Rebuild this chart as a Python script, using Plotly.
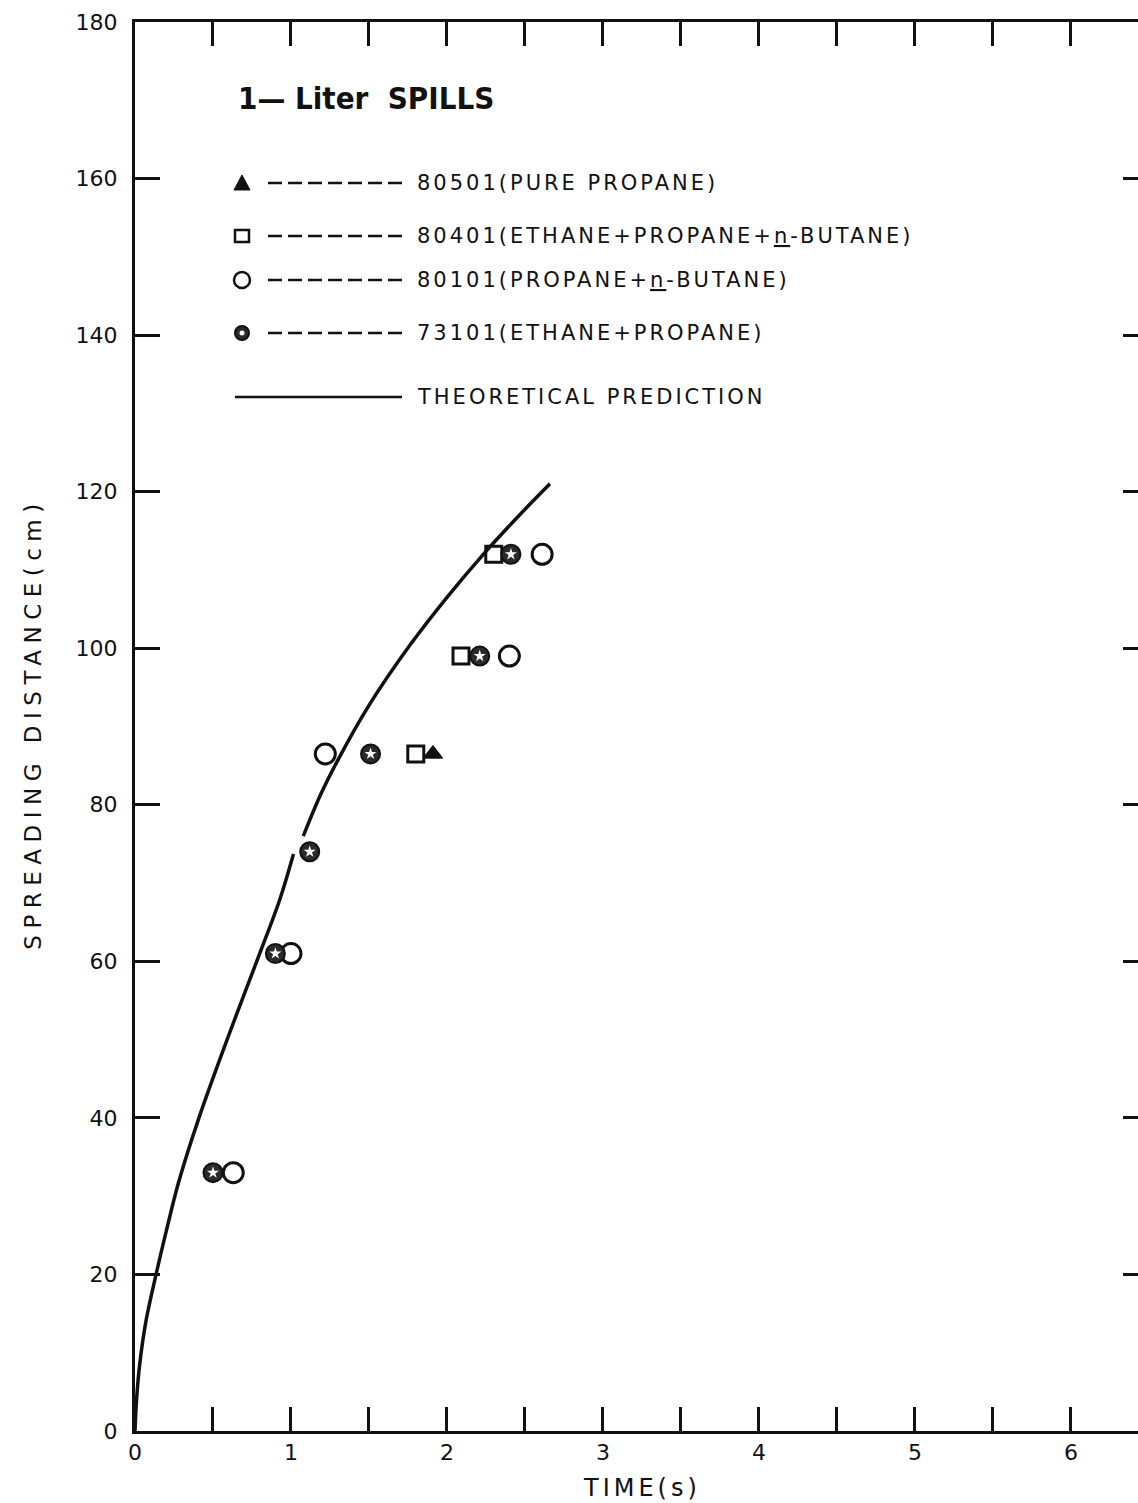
import plotly.graph_objects as go

# ---- data -------------------------------------------------------------
# Theoretical prediction curve, drawn as two pen strokes
theory_t_lower = [0, 0.01, 0.03, 0.07, 0.135, 0.2, 0.28, 0.41, 0.60, 0.79, 0.93, 1.016]
theory_d_lower = [0, 4, 8.5, 14, 20, 25.5, 31.8, 40, 50.5, 60.5, 68, 73.7]
theory_t_upper = [1.079, 1.19, 1.303, 1.5, 1.763, 2.0, 2.233, 2.45, 2.66]
theory_d_upper = [76.0, 81.3, 85.8, 92.7, 100.4, 106.5, 112.0, 116.7, 121.0]

# Test 80501 (pure propane)
t_80501 = [1.91]
d_80501 = [86.5]
# Test 80401 (ethane + propane + n-butane)
t_80401 = [1.80, 2.09, 2.30]
d_80401 = [86.5, 99, 112]
# Test 80101 (propane + n-butane)
t_80101 = [0.63, 1.00, 1.22, 2.40, 2.61]
d_80101 = [33, 61, 86.5, 99, 112]
# Test 73101 (ethane + propane)
t_73101 = [0.50, 0.90, 1.12, 1.51, 2.21, 2.41]
d_73101 = [33, 61, 74, 86.5, 99, 112]

x_ticks = [0, 0.5, 1, 1.5, 2, 2.5, 3, 3.5, 4, 4.5, 5, 5.5, 6]
x_ticklabels = ["0", "", "1", "", "2", "", "3", "", "4", "", "5", "", "6"]
y_ticks = [0, 20, 40, 60, 80, 100, 120, 140, 160, 180]

legend_labels = [
    "80501(PURE PROPANE)",
    "80401(ETHANE+PROPANE+<u>n</u>-BUTANE)",
    "80101(PROPANE+<u>n</u>-BUTANE)",
    "73101(ETHANE+PROPANE)",
    "THEORETICAL PREDICTION",
]

# ---- figure geometry ---------------------------------------------------
W, H = 1138, 1503
ML, MR, MT, MB = 135, 0, 22, 72
PW, PH = W - ML - MR, H - MT - MB
X_RANGE = [0, 6.43]
Y_RANGE = [0, 180]

FONT = "DejaVu Sans"
INK = "#111111"


def px(xp):
    return (xp - ML) / PW


def py(yp):
    return (H - MB - yp) / PH


fig = go.Figure()

for tt, dd in ((theory_t_lower, theory_d_lower), (theory_t_upper, theory_d_upper)):
    fig.add_trace(go.Scatter(
        x=tt, y=dd, mode="lines",
        line=dict(color=INK, width=3.5, shape="spline", smoothing=1.0),
        hoverinfo="skip", showlegend=False,
    ))

fig.add_trace(go.Scatter(
    x=t_80401, y=d_80401, mode="markers",
    marker=dict(symbol="square-open", size=16, color=INK, line=dict(width=3, color=INK)),
    showlegend=False,
))
fig.add_trace(go.Scatter(
    x=t_80501, y=d_80501, mode="markers",
    marker=dict(symbol="triangle-up", size=17, color=INK, line=dict(width=1, color=INK)),
    showlegend=False,
))
fig.add_trace(go.Scatter(
    x=t_80101, y=d_80101, mode="markers",
    marker=dict(symbol="circle-open", size=20, color=INK, line=dict(width=3, color=INK)),
    showlegend=False,
))
fig.add_trace(go.Scatter(
    x=t_73101, y=d_73101, mode="markers",
    marker=dict(symbol="circle", size=19, color="#2a2a2a", line=dict(width=2, color=INK)),
    showlegend=False,
))
fig.add_trace(go.Scatter(
    x=t_73101, y=d_73101, mode="markers",
    marker=dict(symbol="star", size=9, color="white", line=dict(width=0)),
    hoverinfo="skip", showlegend=False,
))
# second y axis only carries the inward ticks on the right-hand edge
fig.add_trace(go.Scatter(x=[None], y=[None], yaxis="y2", showlegend=False))

# ---- legend block -------------------------------------------------------
shapes = []
annotations = []
row_y = [183, 236, 280, 333, 397]
key_x = 242
for i, yy in enumerate(row_y):
    if i < 4:
        shapes.append(dict(type="line", xref="paper", yref="paper",
                           x0=px(268), x1=px(402), y0=py(yy), y1=py(yy),
                           line=dict(color=INK, width=2.5, dash="14px,6px")))
    else:
        shapes.append(dict(type="line", xref="paper", yref="paper",
                           x0=px(235), x1=px(402), y0=py(yy), y1=py(yy),
                           line=dict(color=INK, width=2.5)))
    annotations.append(dict(
        xref="paper", yref="paper", x=px(415), y=py(yy), xanchor="left", yanchor="middle",
        text='<span style="letter-spacing:3px">%s</span>' % legend_labels[i],
        showarrow=False, font=dict(family=FONT, size=21, color=INK),
    ))

# legend keys
shapes.append(dict(type="path", xref="paper", yref="paper",
                   path="M %f,%f L %f,%f L %f,%f Z" % (px(key_x - 8), py(183 + 7), px(key_x + 8), py(183 + 7),
                                                       px(key_x), py(183 - 8)),
                   fillcolor=INK, line=dict(color=INK, width=1)))
shapes.append(dict(type="rect", xref="paper", yref="paper",
                   x0=px(key_x - 7), x1=px(key_x + 7), y0=py(236 + 6), y1=py(236 - 6),
                   line=dict(color=INK, width=2.5)))
shapes.append(dict(type="circle", xref="paper", yref="paper",
                   x0=px(key_x - 8), x1=px(key_x + 8), y0=py(280 + 8), y1=py(280 - 8),
                   line=dict(color=INK, width=2.5)))
shapes.append(dict(type="circle", xref="paper", yref="paper",
                   x0=px(key_x - 7), x1=px(key_x + 7), y0=py(333 + 7), y1=py(333 - 7),
                   fillcolor="#2a2a2a", line=dict(color=INK, width=2)))
shapes.append(dict(type="circle", xref="paper", yref="paper",
                   x0=px(key_x - 2.5), x1=px(key_x + 2.5), y0=py(333 + 2.5), y1=py(333 - 2.5),
                   fillcolor="white", line=dict(width=0)))

annotations.append(dict(
    xref="paper", yref="paper", x=px(236), y=py(98), xanchor="left", yanchor="middle",
    text="<b>1— Liter  SPILLS</b>", showarrow=False,
    font=dict(family="DejaVu Sans Condensed, DejaVu Sans", size=31, color=INK),
))

# axis titles
annotations.append(dict(
    xref="paper", yref="paper", x=0, y=0.502, xshift=-102, xanchor="center", yanchor="middle",
    textangle=-90, showarrow=False,
    text='<span style="letter-spacing:6.5px">SPREADING DISTANCE(cm)</span>',
    font=dict(family=FONT, size=23, color=INK),
))
annotations.append(dict(
    xref="x", yref="paper", x=3.25, y=0, yshift=-57, xanchor="center", yanchor="middle",
    showarrow=False,
    text='<span style="letter-spacing:4px">TIME(s)</span>',
    font=dict(family=FONT, size=24, color=INK),
))

fig.update_layout(
    width=W, height=H,
    margin=dict(l=ML, r=MR, t=MT, b=MB, pad=0),
    paper_bgcolor="white", plot_bgcolor="white",
    showlegend=False,
    shapes=shapes,
    annotations=annotations,
    xaxis=dict(
        range=X_RANGE, tickmode="array", tickvals=x_ticks, ticktext=x_ticklabels,
        ticks="inside", ticklen=24, tickwidth=3, tickcolor=INK,
        showline=True, linewidth=3, linecolor=INK, mirror="ticks",
        showgrid=False, zeroline=False,
        tickfont=dict(family=FONT, size=22, color=INK),
    ),
    yaxis=dict(
        range=Y_RANGE, tickmode="array", tickvals=y_ticks,
        ticks="inside", ticklen=25, tickwidth=3, tickcolor=INK,
        showline=True, linewidth=3, linecolor=INK, mirror=False,
        showgrid=False, zeroline=False, ticklabelstandoff=10,
        tickfont=dict(family=FONT, size=22, color=INK),
    ),
    yaxis2=dict(
        range=Y_RANGE, overlaying="y", side="right", anchor="x",
        tickmode="array", tickvals=y_ticks[1:-1],
        ticks="inside", ticklen=15, tickwidth=3, tickcolor=INK,
        showline=False, showticklabels=False, showgrid=False, zeroline=False,
    ),
)

fig.write_html("out.html")
